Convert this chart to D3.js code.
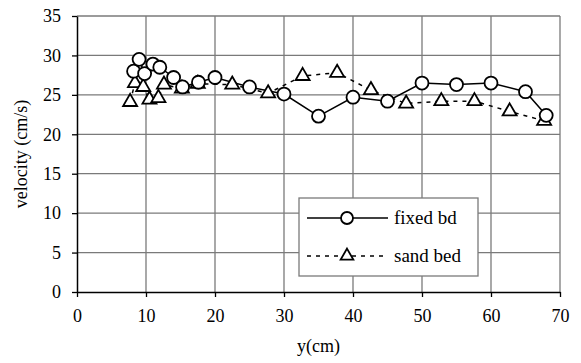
<!DOCTYPE html>
<html>
<head>
<meta charset="utf-8">
<script src="https://cdn.jsdelivr.net/npm/d3@7"></script>
<style>
  body { margin: 0; background: #fff; }
  svg text { font-family: 'Liberation Serif', 'Times New Roman', Times, 'DejaVu Serif', serif; fill: #000; }
</style>
</head>
<body>
<svg id="chart" width="581" height="363"></svg>
<script>
// fixed bed (circles, solid line)
const fixedY = [8.2, 9, 9.8, 11, 12, 14, 15.3, 17.6, 20, 25, 30, 35, 40, 45, 50, 55, 60, 65, 68]
const fixedV = [28.0, 29.5, 27.7, 28.9, 28.5, 27.2, 26.0, 26.6, 27.2, 26.0, 25.1, 22.3, 24.7, 24.2, 26.5, 26.3, 26.5, 25.4, 22.4]

// sand bed (triangles, dashed line)
const sandY = [7.7, 8.4, 9.6, 10.5, 11.8, 12.6, 15.2, 17.5, 22.5, 27.7, 32.7, 37.7, 42.6, 47.7, 52.8, 57.6, 62.7, 67.7]
const sandV = [24.1, 26.5, 26.0, 24.4, 24.6, 26.3, 25.8, 26.4, 26.3, 25.2, 27.4, 27.8, 25.6, 23.9, 24.2, 24.2, 22.9, 21.7]

const xTicks = [0, 10, 20, 30, 40, 50, 60, 70]
const yTicks = [0, 5, 10, 15, 20, 25, 30, 35]

const margin = { left: 77, right: 21, top: 16, bottom: 71 }
const W = 581, H = 363
const FONT = 18

const svg = d3.select('#chart')

const x = d3.scaleLinear().domain([0, 70]).range([margin.left, W - margin.right])
const y = d3.scaleLinear().domain([0, 35]).range([H - margin.bottom, margin.top])

// grid
const grid = svg.append('g').attr('stroke', '#7a7a7a').attr('stroke-width', 1.3)
grid.selectAll('.gy')
  .data(yTicks.filter(d => d > 0))
  .join('line')
  .attr('x1', x(0)).attr('x2', x(70))
  .attr('y1', d => y(d)).attr('y2', d => y(d))
grid.selectAll('.gx')
  .data(xTicks.filter(d => d > 0))
  .join('line')
  .attr('y1', y(0)).attr('y2', y(35))
  .attr('x1', d => x(d)).attr('x2', d => x(d))

// axes
const xAxis = svg.append('g')
  .attr('transform', `translate(0,${y(0)})`)
  .call(d3.axisBottom(x).tickValues(xTicks).tickSize(5).tickPadding(12).tickSizeOuter(0))
const yAxis = svg.append('g')
  .attr('transform', `translate(${x(0)},0)`)
  .call(d3.axisLeft(y).tickValues(yTicks).tickSize(5).tickPadding(11).tickSizeOuter(0))

;[xAxis, yAxis].forEach(a => {
  a.attr('font-family', null).attr('font-size', FONT)
  a.select('.domain').attr('stroke', '#000').attr('stroke-width', 1.5)
  a.selectAll('.tick line').attr('stroke', '#000').attr('stroke-width', 1.3)
  a.selectAll('.tick text').attr('fill', '#000')
})

// axis titles
svg.append('text')
  .attr('x', x(35)).attr('y', 352)
  .attr('text-anchor', 'middle')
  .attr('font-size', FONT)
  .text('y(cm)')

svg.append('text')
  .attr('transform', `translate(27,${y(17.5)}) rotate(-90)`)
  .attr('text-anchor', 'middle')
  .attr('font-size', FONT)
  .text('velocity (cm/s)')

// series
const fixedData = fixedY.map((d, i) => [d, fixedV[i]])
const sandData = sandY.map((d, i) => [d, sandV[i]])

const line = d3.line().x(d => x(d[0])).y(d => y(d[1]))

const triangle = d3.symbol().type(d3.symbolTriangle).size(85)

svg.append('path')
  .datum(sandData)
  .attr('d', line)
  .attr('fill', 'none')
  .attr('stroke', '#000')
  .attr('stroke-width', 1.5)
  .attr('stroke-dasharray', '4,5')

svg.append('path')
  .datum(fixedData)
  .attr('d', line)
  .attr('fill', 'none')
  .attr('stroke', '#000')
  .attr('stroke-width', 1.5)

svg.append('g')
  .selectAll('path')
  .data(sandData)
  .join('path')
  .attr('d', triangle)
  .attr('transform', d => `translate(${x(d[0])},${y(d[1])})`)
  .attr('fill', '#fff')
  .attr('stroke', '#000')
  .attr('stroke-width', 1.8)

svg.append('g')
  .selectAll('circle')
  .data(fixedData)
  .join('circle')
  .attr('cx', d => x(d[0]))
  .attr('cy', d => y(d[1]))
  .attr('r', 6.5)
  .attr('fill', '#fff')
  .attr('stroke', '#000')
  .attr('stroke-width', 1.8)

// legend
const legend = svg.append('g').attr('transform', 'translate(299,198)')
legend.append('rect')
  .attr('width', 179).attr('height', 78)
  .attr('fill', '#fff')
  .attr('stroke', '#7a7a7a')
  .attr('stroke-width', 1.3)

legend.append('line')
  .attr('x1', 8).attr('x2', 89).attr('y1', 20).attr('y2', 20)
  .attr('stroke', '#000').attr('stroke-width', 1.5)
legend.append('circle')
  .attr('cx', 48).attr('cy', 20).attr('r', 6)
  .attr('fill', '#fff').attr('stroke', '#000').attr('stroke-width', 1.8)
legend.append('text')
  .attr('x', 95).attr('y', 26).attr('font-size', 19)
  .text('fixed bd')

legend.append('line')
  .attr('x1', 8).attr('x2', 89).attr('y1', 58).attr('y2', 58)
  .attr('stroke', '#000').attr('stroke-width', 1.5)
  .attr('stroke-dasharray', '4,5')
legend.append('path')
  .attr('d', d3.symbol().type(d3.symbolTriangle).size(70))
  .attr('transform', 'translate(48,58)')
  .attr('fill', '#fff').attr('stroke', '#000').attr('stroke-width', 1.8)
legend.append('text')
  .attr('x', 95).attr('y', 64).attr('font-size', 19)
  .text('sand bed')
</script>
</body>
</html>
